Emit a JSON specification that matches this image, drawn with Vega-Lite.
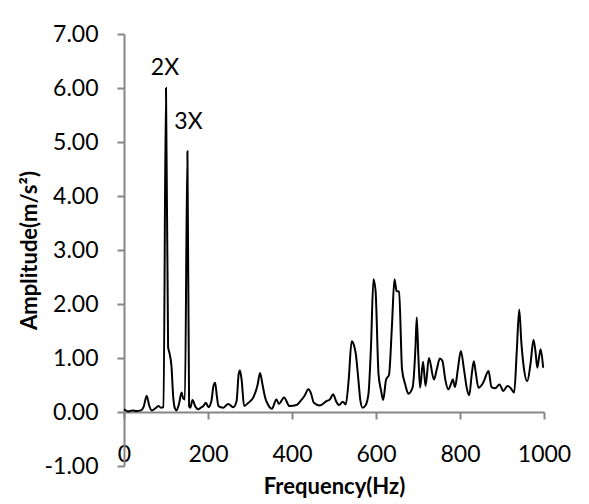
{
  "$schema": "https://vega.github.io/schema/vega-lite/v6.json",
  "width": 420,
  "height": 432,
  "autosize": "none",
  "padding": {"left": 124, "top": 34, "right": 45, "bottom": 38},
  "background": "white",
  "config": {
    "view": {"stroke": null},
    "font": "Lato",
    "axis": {"grid": false, "domainColor": "#868686", "tickColor": "#868686", "domainWidth": 2, "tickWidth": 2, "tickSize": 7, "labelColor": "#000000", "titleColor": "#000000", "labelFont": "Lato", "titleFont": "Lato", "labelFontSize": 23, "titleFontSize": 22, "titleFontWeight": "bold", "labelOverlap": false, "labelBound": false}
  },
  "datasets": {
    "spectrum": [
      {"f": 0, "a": 0.05}, {"f": 10, "a": 0.01}, {"f": 20, "a": 0.03}, {"f": 30, "a": 0.02}, {"f": 40, "a": 0.03},
      {"f": 47, "a": 0.1}, {"f": 54, "a": 0.3}, {"f": 60, "a": 0.12}, {"f": 66, "a": 0.03}, {"f": 75, "a": 0.07},
      {"f": 82, "a": 0.11}, {"f": 88, "a": 0.08}, {"f": 94, "a": 0.09}, {"f": 100, "a": 6.0}, {"f": 105, "a": 1.2},
      {"f": 108, "a": 1.1}, {"f": 113, "a": 0.85}, {"f": 117, "a": 0.3}, {"f": 121, "a": 0.07}, {"f": 125, "a": 0.03},
      {"f": 131, "a": 0.15}, {"f": 137, "a": 0.36}, {"f": 141, "a": 0.25}, {"f": 145, "a": 0.23}, {"f": 151, "a": 4.83},
      {"f": 155, "a": 0.1}, {"f": 158, "a": 0.08}, {"f": 163, "a": 0.22}, {"f": 170, "a": 0.1}, {"f": 177, "a": 0.05},
      {"f": 183, "a": 0.08}, {"f": 189, "a": 0.11}, {"f": 195, "a": 0.17}, {"f": 201, "a": 0.09}, {"f": 208, "a": 0.2},
      {"f": 213, "a": 0.48}, {"f": 217, "a": 0.54}, {"f": 221, "a": 0.3}, {"f": 225, "a": 0.11}, {"f": 236, "a": 0.08},
      {"f": 248, "a": 0.15}, {"f": 260, "a": 0.09}, {"f": 268, "a": 0.2}, {"f": 273, "a": 0.7}, {"f": 276, "a": 0.77},
      {"f": 280, "a": 0.6}, {"f": 286, "a": 0.11}, {"f": 296, "a": 0.17}, {"f": 308, "a": 0.27}, {"f": 318, "a": 0.5},
      {"f": 324, "a": 0.72}, {"f": 330, "a": 0.5}, {"f": 336, "a": 0.27}, {"f": 344, "a": 0.12}, {"f": 352, "a": 0.06},
      {"f": 363, "a": 0.23}, {"f": 369, "a": 0.15}, {"f": 381, "a": 0.27}, {"f": 394, "a": 0.11}, {"f": 411, "a": 0.13},
      {"f": 420, "a": 0.2}, {"f": 430, "a": 0.3}, {"f": 439, "a": 0.42}, {"f": 445, "a": 0.35}, {"f": 452, "a": 0.17},
      {"f": 466, "a": 0.12}, {"f": 482, "a": 0.2}, {"f": 491, "a": 0.24}, {"f": 498, "a": 0.33}, {"f": 505, "a": 0.2},
      {"f": 512, "a": 0.13}, {"f": 521, "a": 0.19}, {"f": 528, "a": 0.14}, {"f": 535, "a": 0.6}, {"f": 542, "a": 1.31},
      {"f": 547, "a": 1.25}, {"f": 552, "a": 1.07}, {"f": 558, "a": 0.6}, {"f": 563, "a": 0.2}, {"f": 568, "a": 0.08},
      {"f": 575, "a": 0.12}, {"f": 582, "a": 0.33}, {"f": 588, "a": 1.2}, {"f": 594, "a": 2.46}, {"f": 599, "a": 2.24},
      {"f": 606, "a": 0.7}, {"f": 612, "a": 0.4}, {"f": 617, "a": 0.22}, {"f": 624, "a": 0.6}, {"f": 631, "a": 0.69},
      {"f": 638, "a": 1.6}, {"f": 644, "a": 2.46}, {"f": 649, "a": 2.24}, {"f": 655, "a": 2.23}, {"f": 662, "a": 0.79},
      {"f": 670, "a": 0.5}, {"f": 677, "a": 0.34}, {"f": 687, "a": 0.45}, {"f": 694, "a": 1.2}, {"f": 697, "a": 1.75},
      {"f": 701, "a": 1.0}, {"f": 705, "a": 0.45}, {"f": 712, "a": 0.93}, {"f": 718, "a": 0.48}, {"f": 726, "a": 1.0},
      {"f": 738, "a": 0.6}, {"f": 745, "a": 0.8}, {"f": 752, "a": 0.99}, {"f": 758, "a": 0.95}, {"f": 765, "a": 0.6},
      {"f": 772, "a": 0.42}, {"f": 780, "a": 0.55}, {"f": 783, "a": 0.6}, {"f": 788, "a": 0.46}, {"f": 795, "a": 0.8},
      {"f": 802, "a": 1.13}, {"f": 810, "a": 0.76}, {"f": 816, "a": 0.45}, {"f": 822, "a": 0.31}, {"f": 828, "a": 0.7},
      {"f": 833, "a": 0.94}, {"f": 838, "a": 0.7}, {"f": 844, "a": 0.45}, {"f": 855, "a": 0.54}, {"f": 868, "a": 0.76},
      {"f": 875, "a": 0.46}, {"f": 884, "a": 0.44}, {"f": 894, "a": 0.51}, {"f": 903, "a": 0.39}, {"f": 913, "a": 0.48},
      {"f": 920, "a": 0.45}, {"f": 929, "a": 0.36}, {"f": 935, "a": 1.1}, {"f": 941, "a": 1.9}, {"f": 946, "a": 1.3},
      {"f": 951, "a": 0.88}, {"f": 960, "a": 0.57}, {"f": 968, "a": 0.9}, {"f": 975, "a": 1.34}, {"f": 980, "a": 1.1},
      {"f": 984, "a": 0.82}, {"f": 988, "a": 1.0}, {"f": 992, "a": 1.16}, {"f": 998, "a": 0.82}
    ],
    "labels": [
      {"f": 97.6, "a": 6.37, "text": "2X"},
      {"f": 153.6, "a": 5.37, "text": "3X"}
    ]
  },
  "layer": [
    {
      "data": {"name": "spectrum"},
      "mark": {"type": "line", "color": "#000000", "strokeWidth": 2, "interpolate": "monotone", "clip": false},
      "encoding": {
        "x": {"field": "f", "type": "quantitative", "scale": {"domain": [0, 1000], "nice": false, "zero": false},
          "axis": {"title": "Frequency(Hz)", "values": [0, 200, 400, 600, 800, 1000], "format": "d", "offset": -54, "labelPadding": 24, "labelFlush": false, "titlePadding": 10}},
        "y": {"field": "a", "type": "quantitative", "scale": {"domain": [-1, 7], "nice": false, "zero": false},
          "axis": {"title": "Amplitude(m/s²)", "values": [-1, 0, 1, 2, 3, 4, 5, 6, 7], "labelExpr": "replace(format(datum.value, '.2f'), '\u2212', '-')", "labelPadding": 19, "titlePadding": 3}}
      }
    },
    {
      "data": {"name": "labels"},
      "mark": {"type": "text", "font": "Lato", "fontSize": 23, "color": "#000000", "align": "center", "baseline": "middle"},
      "encoding": {
        "x": {"field": "f", "type": "quantitative"},
        "y": {"field": "a", "type": "quantitative"},
        "text": {"field": "text"}
      }
    }
  ]
}
